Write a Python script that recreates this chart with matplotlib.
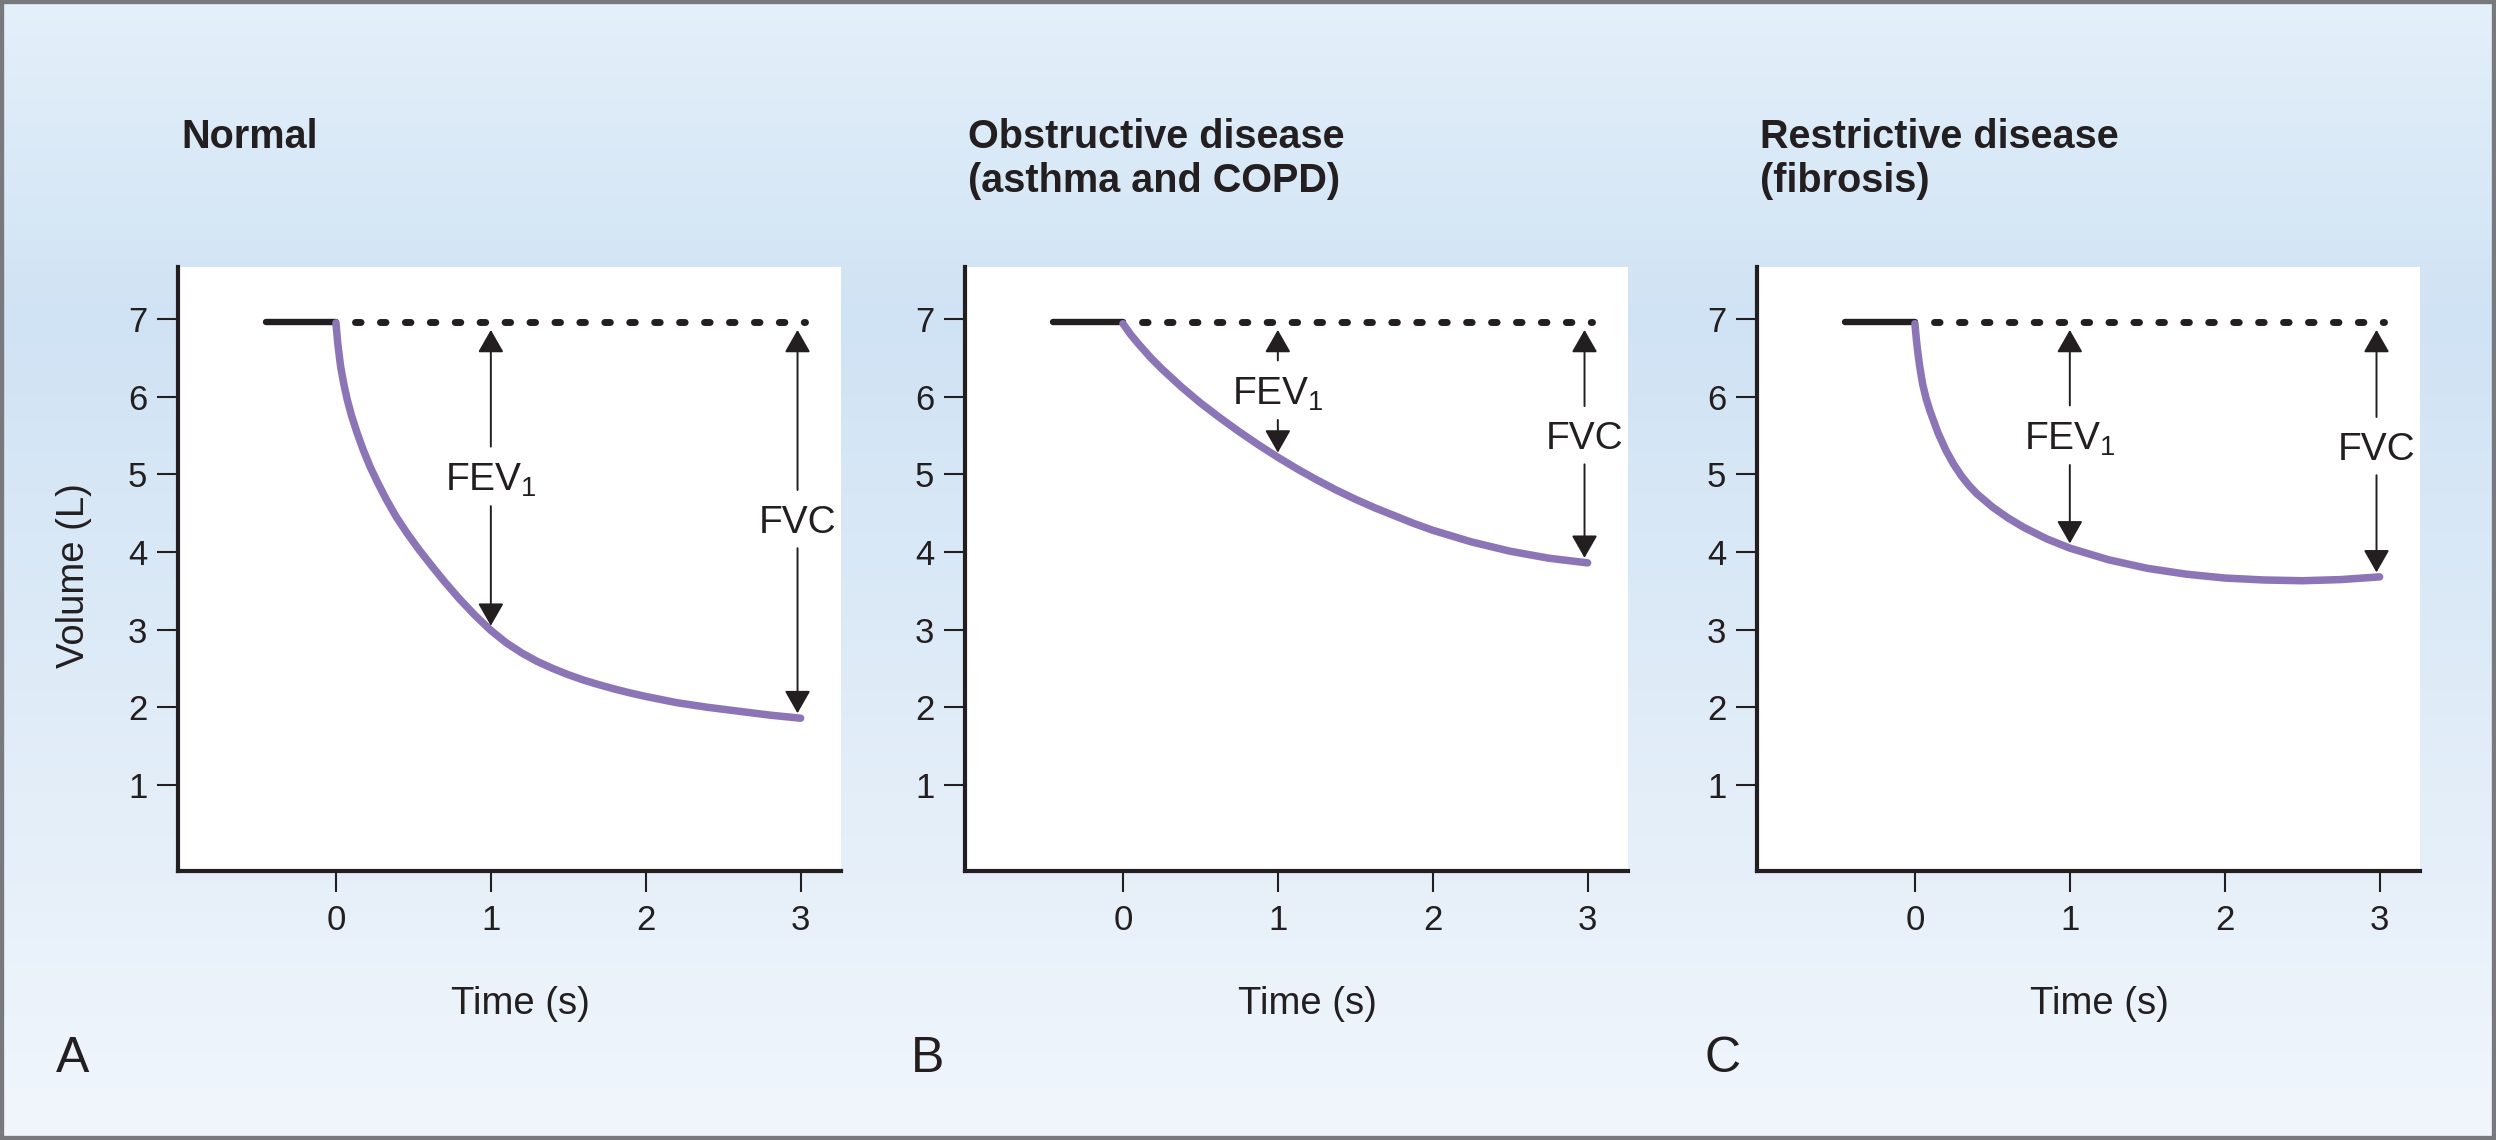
import numpy as np
import matplotlib
matplotlib.use("Agg")
import matplotlib.pyplot as plt
from matplotlib.colors import LinearSegmentedColormap
from matplotlib.patches import Rectangle

# Fonts: Helvetica-like look
plt.rcParams['font.family'] = ['Liberation Sans', 'DejaVu Sans']
plt.rcParams['mathtext.fontset'] = 'custom'
plt.rcParams['mathtext.rm'] = 'Liberation Sans'
plt.rcParams['mathtext.it'] = 'Liberation Sans:italic'
plt.rcParams['mathtext.bf'] = 'Liberation Sans:bold'

ink = '#231f20'
purple = '#8b75b6'

# ---- data ----
titles = ['Normal', 'Obstructive disease\n(asthma and COPD)', 'Restrictive disease\n(fibrosis)']
letters = ['A', 'B', 'C']

start_volume = 6.96          # L, level before the forced exhalation
hold_start = -0.45           # s, start of the flat segment

t_normal = [0, 0.01, 0.02, 0.03, 0.05, 0.073, 0.1, 0.137, 0.175, 0.22, 0.27, 0.327,
            0.39, 0.46, 0.54, 0.617, 0.7, 0.8, 0.9, 1.0, 1.1, 1.2, 1.3, 1.4, 1.5,
            1.6, 1.7, 1.8, 1.9, 2.0, 2.2, 2.4, 2.6, 2.8, 3.0]
v_normal = [6.95, 6.72, 6.55, 6.39, 6.17, 5.96, 5.76, 5.53, 5.32, 5.10, 4.89, 4.67,
            4.45, 4.24, 4.02, 3.825, 3.62, 3.39, 3.18, 2.99, 2.83, 2.70, 2.59, 2.50, 2.42,
            2.35, 2.29, 2.235, 2.185, 2.14, 2.06, 2.00, 1.95, 1.90, 1.86]

t_obstr = [0, 0.05, 0.1, 0.18, 0.25, 0.375, 0.5, 0.625, 0.75, 0.875, 1.0, 1.125,
           1.25, 1.375, 1.5, 1.625, 1.75, 1.875, 2.0, 2.25, 2.5, 2.75, 3.0]
v_obstr = [6.94, 6.80, 6.68, 6.50, 6.36, 6.13, 5.92, 5.73, 5.55, 5.38, 5.22, 5.07,
           4.93, 4.80, 4.68, 4.57, 4.47, 4.37, 4.28, 4.13, 4.01, 3.92, 3.86]

t_restr = [0, 0.01, 0.02, 0.03, 0.05, 0.073, 0.1, 0.15, 0.2, 0.25, 0.3, 0.35, 0.4,
           0.5, 0.6, 0.7, 0.85, 1.0, 1.25, 1.5, 1.75, 2.0, 2.25, 2.5, 2.75, 3.0]
v_restr = [6.94, 6.72, 6.55, 6.40, 6.16, 5.97, 5.80, 5.53, 5.31, 5.13, 4.98, 4.855, 4.75,
           4.58, 4.44, 4.32, 4.17, 4.05, 3.90, 3.79, 3.715, 3.665, 3.64, 3.63, 3.645, 3.68]

curves = [(t_normal, v_normal), (t_obstr, v_obstr), (t_restr, v_restr)]

fev_time = 1.0
fvc_time = 2.98
fev_label_y = [4.92, 6.03, 5.45]
fvc_label_y = [4.37, 5.45, 5.31]

x_ticks = [0, 1, 2, 3]
y_ticks = [1, 2, 3, 4, 5, 6, 7]

# ---- figure ----
fig = plt.figure(figsize=(24.96, 11.4), dpi=100)

bg = fig.add_axes([0, 0, 1, 1], zorder=-5)
grad = np.linspace(0, 1, 256).reshape(-1, 1)
bg_cmap = LinearSegmentedColormap.from_list(
    'bg', [(0, '#e4f0fa'), (0.28, '#d0e3f4'), (1, '#f1f6fc')])
bg.imshow(grad, aspect='auto', cmap=bg_cmap, extent=[0, 1, 0, 1], origin='upper')
bg.axis('off')

lefts = [0.0713, 0.3866, 0.7039]
width, bottom, height = 0.2656, 0.2360, 0.5298
title_y = 0.870
title_gap = 0.0386

arrow_kw = dict(arrowstyle='-|>,head_length=0.7,head_width=0.4', color=ink,
                lw=1.4, mutation_scale=20, shrinkB=0)


def double_arrow(ax, x, y_text, y_low, label):
    top_tip = start_volume - 0.1
    ax.annotate(label, xy=(x, top_tip), xytext=(x, y_text), ha='center', va='center',
                fontsize=28, color=ink, zorder=6,
                arrowprops=dict(shrinkA=9, **arrow_kw))
    ax.annotate(label, xy=(x, y_low), xytext=(x, y_text), ha='center', va='center',
                fontsize=28, color='none', zorder=6,
                arrowprops=dict(shrinkA=3, **arrow_kw))


for i, (t, v) in enumerate(curves):
    left = lefts[i]
    ax = fig.add_axes([left, bottom, width, height])
    ax.set_facecolor('white')
    ax.set_xlim(-1.02, 3.26)
    ax.set_ylim(-0.107, 7.67)

    for s in ['top', 'right']:
        ax.spines[s].set_visible(False)
    for s in ['left', 'bottom']:
        ax.spines[s].set_linewidth(3)
        ax.spines[s].set_color(ink)

    ax.set_xticks(x_ticks)
    ax.set_yticks(y_ticks)
    ax.tick_params(direction='out', length=15, width=1.5, color=ink,
                   labelcolor=ink, labelsize=25)
    ax.tick_params(axis='y', pad=7)
    ax.tick_params(axis='x', pad=9)

    # flat hold before exhalation and the dotted reference level
    ax.plot([hold_start, 0], [start_volume, start_volume], color=ink, lw=4.6,
            solid_capstyle='round', zorder=3)
    ax.plot([0.12, 3.03], [start_volume, start_volume], color=ink, lw=5,
            dashes=(0.8, 2.79), dash_capstyle='round', zorder=3)

    # expiration curve
    ax.plot(t, v, color=purple, lw=5.4, solid_capstyle='round',
            solid_joinstyle='round', zorder=4)

    fev_low = np.interp(fev_time, t, v) + 0.06
    fvc_low = np.interp(fvc_time, t, v) + 0.06
    double_arrow(ax, fev_time, fev_label_y[i], fev_low, 'FEV$_1$')
    double_arrow(ax, fvc_time, fvc_label_y[i], fvc_low, 'FVC')

    # titles (one line at a time so the first baseline lines up) and labels
    for k, line in enumerate(titles[i].split('\n')):
        fig.text(left + 0.0012, title_y - k * title_gap, line, fontsize=28.5,
                 fontweight='bold', color=ink, ha='left', va='baseline')
    fig.text(left + 0.516 * width, 0.1105, 'Time (s)', fontsize=27.5, color=ink,
             ha='center', va='baseline')

letter_x = [0.0224, 0.365, 0.6827]
for lx, lab in zip(letter_x, letters):
    fig.text(lx, 0.0596, lab, fontsize=36, color=ink, ha='left', va='baseline')

fig.text(0.0296, 0.4947, 'Volume (L)', fontsize=27.5, color=ink, rotation=90,
         ha='center', va='center')

fig.add_artist(Rectangle((0, 0), 1, 1, transform=fig.transFigure, fill=False,
                         lw=6, edgecolor='#78797c', zorder=20))

fig.savefig('out.png', dpi=100)
